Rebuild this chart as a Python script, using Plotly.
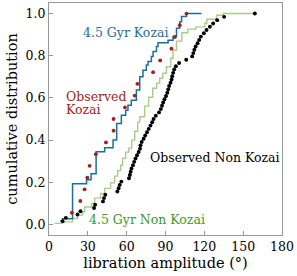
import numpy as np
import plotly.graph_objects as go

# Observed Kozai (sorted libration amplitudes, degrees)
obs_kozai = [17.7, 24.2, 27.5, 29.6, 31.4, 36.2, 44.0, 49.9, 49.9, 58.7,
             66.2, 68.3, 80.4, 85.9, 94.6, 97.2, 101.0, 106.2]

# Observed Non Kozai (sorted libration amplitudes, degrees)
obs_nonkozai = [10.5, 13.0, 22.0, 24.3, 34.8, 35.6, 41.7, 42.5, 43.5, 52.8,
                53.8, 54.6, 55.9, 61.8, 62.5, 63.1, 63.7, 64.9, 65.8, 66.8,
                68.0, 69.3, 70.3, 70.7, 71.6, 73.1, 74.3, 75.7, 77.0, 78.4,
                79.7, 80.8, 82.5, 85.0, 86.4, 87.3, 88.2, 89.2, 90.4, 91.4,
                92.1, 92.8, 93.9, 94.7, 95.2, 95.9, 96.7, 98.0, 100.5, 106.0,
                110.6, 111.5, 112.3, 113.3, 114.8, 116.0, 117.3, 119.6, 121.7, 124.3,
                126.8, 129.9, 135.3, 159.0]

# 4.5 Gyr Kozai simulated cumulative distribution (step curve)
sim_kozai_x = [8.9, 10.5, 18.2, 29.0, 32.5, 36.4, 43.0, 49.5, 52.3, 55.9,
               59.2, 61.0, 63.6, 67.5, 70.1, 72.6, 75.2, 76.5, 79.1, 80.4,
               83.0, 84.2, 92.0, 95.8, 98.5, 101.0, 102.4, 106.2, 117.8]
sim_kozai_y = [0.018, 0.027, 0.193, 0.212, 0.241, 0.345, 0.364, 0.40, 0.479, 0.518,
               0.542, 0.565, 0.589, 0.637, 0.70, 0.731, 0.756, 0.773, 0.796, 0.82,
               0.844, 0.862, 0.873, 0.891, 0.93, 0.961, 0.986, 1.0, 1.0]

# 4.5 Gyr Non Kozai simulated cumulative distribution (step curve)
sim_nonkozai_x = [4.3, 10.5, 18.2, 22.1, 25.9, 27.5, 32.9, 35.2, 39.9, 43.0,
                  47.6, 50.7, 53.0, 55.4, 56.9, 59.2, 61.6, 63.9, 66.2, 68.5,
                  70.1, 73.9, 77.0, 80.1, 83.2, 85.5, 87.9, 90.7, 94.1, 95.8,
                  98.5, 102.6, 107.2, 113.4, 120.4, 121.9, 129.4, 134.6, 159.1]
sim_nonkozai_y = [0.005, 0.012, 0.028, 0.044, 0.060, 0.083, 0.100, 0.125, 0.146, 0.171,
                  0.198, 0.229, 0.255, 0.281, 0.314, 0.343, 0.362, 0.400, 0.442, 0.485,
                  0.511, 0.561, 0.603, 0.646, 0.670, 0.693, 0.717, 0.748, 0.788, 0.826,
                  0.869, 0.909, 0.926, 0.937, 0.954, 0.973, 0.992, 1.0, 1.0]

x_ticks = [0, 30, 60, 90, 120, 150, 180]
y_ticks = [0.0, 0.2, 0.4, 0.6, 0.8, 1.0]

BLUE = "#1c6f99"
RED = "#a51d1d"
GREEN_LINE = "#a9cc8a"
GREEN_TEXT = "#3a9a32"
FONT = "DejaVu Serif"

cdf_red = np.arange(1, len(obs_kozai) + 1) / len(obs_kozai)
cdf_black = np.arange(1, len(obs_nonkozai) + 1) / len(obs_nonkozai)

fig = go.Figure()
fig.add_trace(go.Scatter(x=sim_nonkozai_x, y=sim_nonkozai_y, mode="lines",
                         line=dict(color=GREEN_LINE, width=1.4, shape="hv"),
                         showlegend=False))
fig.add_trace(go.Scatter(x=sim_kozai_x, y=sim_kozai_y, mode="lines",
                         line=dict(color=BLUE, width=1.5, shape="hv"),
                         showlegend=False))
fig.add_trace(go.Scatter(x=obs_nonkozai, y=cdf_black, mode="markers",
                         marker=dict(color="black", size=3.9),
                         showlegend=False))
fig.add_trace(go.Scatter(x=obs_kozai, y=cdf_red, mode="markers",
                         marker=dict(color=RED, size=3.8),
                         showlegend=False))

ann = [
    ("4.5 Gyr Kozai", 25.2, 0.911, BLUE),
    ("Observed", 12.0, 0.605, RED),
    ("Kozai", 12.0, 0.547, RED),
    ("Observed Non Kozai", 77.0, 0.319, "black"),
    ("4.5 Gyr Non Kozai", 29.8, 0.025, GREEN_TEXT),
]
for txt, x, y, c in ann:
    fig.add_annotation(x=x, y=y, xref="x", yref="y", text=txt, showarrow=False,
                       xanchor="left", yanchor="middle", borderpad=0,
                       font=dict(family=FONT, size=12.5, color=c))

axis_common = dict(showline=True, linecolor="#999999", linewidth=1, mirror=True,
                   ticks="inside", ticklen=4, tickcolor="#999999", showgrid=False,
                   zeroline=False, automargin=False,
                   tickfont=dict(family=FONT, size=12.5, color="black"))
fig.update_xaxes(range=[0, 180], tickvals=x_ticks, ticktext=[str(v) for v in x_ticks],
                 title=dict(text="libration amplitude (°)", standoff=4,
                            font=dict(family=FONT, size=14.5, color="black")),
                 **axis_common)
fig.update_yaxes(range=[-0.05, 1.05], tickvals=y_ticks,
                 ticktext=[f"{v:.1f}" for v in y_ticks],
                 title=dict(text="cumulative distribution", standoff=4,
                            font=dict(family=FONT, size=14.5, color="black")),
                 **axis_common)
fig.update_layout(width=297, height=276, margin=dict(l=49, r=15, t=3, b=41),
                  plot_bgcolor="white", paper_bgcolor="white")
fig.write_html("out.html", config={"displayModeBar": False},
               post_script="document.body.style.margin='0';document.body.style.overflow='hidden';")
